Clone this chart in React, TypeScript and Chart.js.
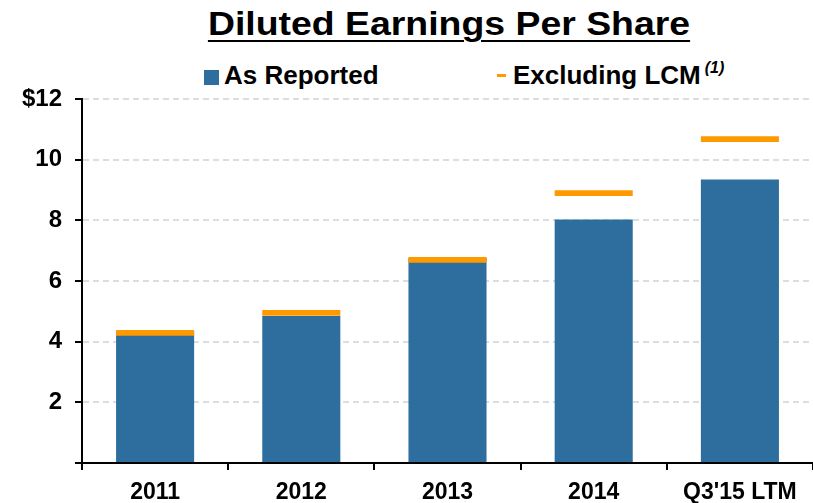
import React, { useEffect, useRef } from "react";
import { Chart, registerables } from "chart.js";

Chart.register(...registerables);

const categories = ["2011", "2012", "2013", "2014", "Q3'15 LTM"];
const asReported = [4.33, 4.85, 6.76, 8.03, 9.35];
const excludingLCM = [4.29, 4.95, 6.7, 8.9, 10.68];
const yTicks = [0, 2, 4, 6, 8, 10, 12];

const BLUE = "#2d6e9f";
const ORANGE = "#ff9900";
const FONT = "'Liberation Sans', Arial, sans-serif";
const MARK_HALF = 0.095;

export default function App() {
  const ref = useRef<HTMLCanvasElement | null>(null);

  useEffect(() => {
    if (!ref.current) return;
    const chart = new Chart(ref.current, {
      type: "bar",
      data: {
        labels: categories,
        datasets: [
          {
            label: "Excluding LCM",
            data: excludingLCM.map((v) => [v - MARK_HALF, v + MARK_HALF]) as any,
            backgroundColor: ORANGE,
            order: 0,
          },
          {
            label: "As Reported",
            data: asReported,
            backgroundColor: BLUE,
            order: 1,
          },
        ],
      },
      options: {
        animation: false,
        responsive: false,
        maintainAspectRatio: false,
        layout: { padding: { top: 99, left: 0, right: 0, bottom: 0 } },
        datasets: {
          bar: { grouped: false, barPercentage: 0.534, categoryPercentage: 1 },
        } as any,
        plugins: {
          legend: { display: false },
          title: { display: false },
          tooltip: { enabled: false },
        },
        scales: {
          x: {
            offset: true,
            grid: {
              offset: true,
              drawOnChartArea: false,
              drawTicks: true,
              tickLength: 7,
              color: "#000",
              tickColor: "#000",
              lineWidth: 2,
              tickWidth: 2,
            },
            border: { display: true, color: "#000", width: 2 },
            ticks: {
              color: "#000",
              padding: 9,
              font: { family: FONT, size: 23, weight: "bold" },
              maxRotation: 0,
              autoSkip: false,
            },
            afterFit: (s: any) => {
              s.height = 40;
            },
          },
          y: {
            min: 0,
            max: 12,
            afterBuildTicks: (s: any) => {
              s.ticks = yTicks.map((v) => ({ value: v }));
            },
            grid: {
              color: (c: any) => (c.tick && c.tick.value === 0 ? "rgba(0,0,0,0)" : "#d9dee4"),
              tickColor: "#000",
              lineWidth: 2,
              tickWidth: 2,
              tickLength: 7,
              drawTicks: true,
            },
            border: { display: true, color: "#000", width: 2, dash: [6, 4] },
            ticks: {
              color: "#000",
              padding: 13,
              font: { family: FONT, size: 24, weight: "bold" },
              callback: (v: any) => (v === 0 ? "" : v === 12 ? "$12" : String(v)),
            },
            afterFit: (s: any) => {
              s.width = 82;
            },
          },
        },
      },
    });
    return () => chart.destroy();
  }, []);

  return (
    <div
      style={{
        position: "fixed",
        left: 0,
        top: 0,
        width: 813,
        height: 503,
        background: "#fff",
        fontFamily: FONT,
        overflow: "hidden",
      }}
    >
      <div
        style={{
          position: "absolute",
          left: 449,
          top: 3,
          transform: "translateX(-50%) scaleX(1.1)",
          fontSize: 34,
          fontWeight: "bold",
          textDecoration: "underline",
          textDecorationThickness: 2,
          textUnderlineOffset: 5,
          whiteSpace: "nowrap",
          color: "#000",
          lineHeight: "40px",
        }}
      >
        Diluted Earnings Per Share
      </div>
      <div
        style={{
          position: "absolute",
          left: 204,
          top: 70,
          width: 15,
          height: 15,
          background: BLUE,
        }}
      />
      <div
        style={{
          position: "absolute",
          left: 224,
          top: 60,
          fontSize: 26,
          fontWeight: "bold",
          lineHeight: "30px",
          whiteSpace: "nowrap",
          color: "#000",
        }}
      >
        As Reported
      </div>
      <div
        style={{
          position: "absolute",
          left: 497,
          top: 74,
          width: 9,
          height: 3,
          background: ORANGE,
        }}
      />
      <div
        style={{
          position: "absolute",
          left: 513,
          top: 60,
          fontSize: 26,
          fontWeight: "bold",
          lineHeight: "30px",
          whiteSpace: "nowrap",
          color: "#000",
        }}
      >
        Excluding LCM
        <span
          style={{
            fontSize: 16,
            fontStyle: "italic",
            verticalAlign: "top",
            position: "relative",
            top: -7,
            marginLeft: 4,
          }}
        >
          (1)
        </span>
      </div>
      <canvas
        ref={ref}
        width={813}
        height={503}
        style={{ position: "absolute", left: 0, top: 0, width: 813, height: 503 }}
      />
    </div>
  );
}
